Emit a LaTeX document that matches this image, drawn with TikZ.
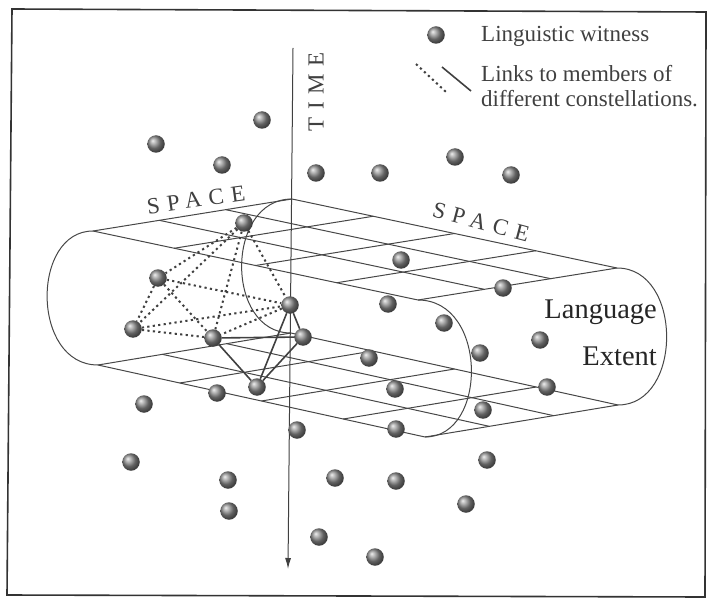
\documentclass[tikz,border=0pt]{standalone}
\usepackage{fontspec}
\setmainfont{Liberation Serif}
\usepackage{tikz}
\usetikzlibrary{arrows.meta, calc}

\begin{document}
\begin{tikzpicture}[
  x = 1pt, y = -1pt,
  font = \fontsize{23}{25}\selectfont,
  witness/.style = {circle, inner sep=0pt, minimum size=17.5pt,
                    shading=ball, ball color=gray!90},
  mesh/.style = {draw=black!72, line width=1pt},
  solidlink/.style = {draw=black!75, line width=1.6pt},
  dotlink/.style = {draw=black!75, line width=2pt,
                    dash pattern=on 2.2pt off 3.3pt},
  arrow/.style = {-{Latex[length=11pt, width=6pt]}, draw=black!75, line width=1pt},
  spaced/.style = {font=\fontsize{23}{23}\selectfont\addfontfeatures{LetterSpace=32},
                   text=black!75, inner sep=0pt},
  keytext/.style = {anchor=base west, text=black!75, inner sep=0pt},
  extent/.style = {anchor=base east, font=\fontsize{28.5}{30}\selectfont,
                   text=black!85, inner sep=0pt},
]
\useasboundingbox (0,0) rectangle (708,601);

\coordinate (frame nw) at (12,9);
\coordinate (frame ne) at (706,12);
\coordinate (frame se) at (705,597);
\coordinate (frame sw) at (7,595);
\draw[line width=1.6pt, draw=black!80] (frame nw) -- (frame ne) -- (frame se) -- (frame sw) -- cycle;

\coordinate (L1) at (93,231);
\coordinate (T1) at (292,199);
\coordinate (R1) at (617,268);
\coordinate (F1) at (418,300);
\coordinate (L2) at (98,365);
\coordinate (T2) at (291,333);
\coordinate (R2) at (618,405);
\coordinate (F2) at (425,437);

\foreach \k in {1,2} {
  \foreach \u in {0,1,2,3}
    \draw[mesh] ($(L\k)!\u/3!(T\k)$) -- ($(F\k)!\u/3!(R\k)$);
  \foreach \v in {0,...,4}
    \draw[mesh] ($(L\k)!\v/4!(F\k)$) -- ($(T\k)!\v/4!(R\k)$);
}
\draw[mesh] (L1) .. controls (31,231) and (31,365) .. (L2);
\draw[mesh] (R1) .. controls (683,268) and (683,405) .. (R2);
\draw[mesh] (T1) .. controls (225,199) and (225,333) .. (T2);
\draw[mesh] (F1) .. controls (488,300) and (488,437) .. (F2);

\coordinate (time top) at (293,48);
\coordinate (time end) at (288,569);
\draw[arrow] (time top) -- (time end);
\node[spaced, rotate=90] (time) at (316,92) {TIME};
\node[spaced, rotate=8] (space left) at (196,200) {SPACE};
\node[spaced, rotate=-15] (space right) at (481,222) {SPACE};

\node[extent] (language) at (657,318) {Language};
\node[extent] (extent) at (657,365) {Extent};

\foreach \n/\x/\y in {w1/262/120, w2/156/144, w3/222/165, w4/316/173,
    w5/380/173, w6/455/157, w7/511/175, w8/244/223, w9/401/260,
    w10/503/288, w11/158/278, w12/290/305, w13/388/304, w14/444/323,
    w15/540/340, w16/133/329, w17/213/338, w18/303/337, w19/369/358,
    w20/480/353, w21/395/389, w22/547/387, w23/144/404, w24/217/393,
    w25/257/387, w26/483/410, w27/297/430, w28/396/429, w29/131/462,
    w30/228/480, w31/335/478, w32/396/481, w33/487/460, w34/229/511,
    w35/466/504, w36/319/537, w37/375/557}
  \node[witness] (\n) at (\x,\y) {};

\foreach \a/\b in {w8/w11, w8/w16, w8/w12, w8/w17, w11/w16,
    w11/w12, w11/w17, w16/w12, w16/w17, w12/w17}
  \draw[dotlink] (\a) -- (\b);
\foreach \a/\b in {w17/w18, w17/w25, w12/w25, w18/w25, w12/w18}
  \draw[solidlink] (\a) -- (\b);

\node[witness] (key dot) at (436,35) {};
\node[keytext] (key witness) at (481,42) {Linguistic witness};
\coordinate (key dots a) at (416,64);
\coordinate (key dots b) at (446,92);
\coordinate (key line a) at (442,67);
\coordinate (key line b) at (471,91);
\draw[dotlink] (key dots a) -- (key dots b);
\draw[solidlink] (key line a) -- (key line b);
\node[keytext] (key links) at (481,82) {Links to members of};
\node[keytext] (key links2) at (481,107) {different constellations.};
\end{tikzpicture}
\end{document}
